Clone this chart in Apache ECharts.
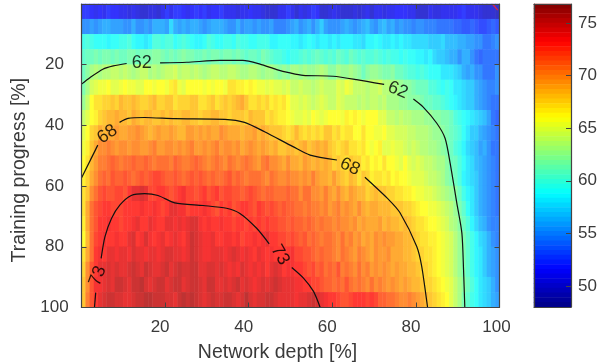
<!DOCTYPE html>
<html><head><meta charset="utf-8">
<style>html,body{margin:0;padding:0;background:#fff}#c{width:598px;height:362px}</style>
<script src="https://cdn.jsdelivr.net/npm/echarts@6/dist/echarts.min.js"></script>
</head><body><div id="c"></div>
<script>
const r0=[52,52,51.5,51,51.5,51,52,51.5,51.5,51,51,50.5,51,50.5,50,50,50.5,50.5,50,51,52,51,52,52,51.5,51,51.5,52,51.5,52,51,51.5,51.5,52,51,51,51,50.5,51,51,51.5,51,51,50.5,50,50,50,51,51,52,
51,50,51,50.5,51,52,51.5,50,50,50.5,51,50.5,50,50,50,50.5,50,50.5,51,50,51,51,50.5,51,51,51.5,51.5,51.5,51,51,50,50,50,51,50.5,50.5,51,51,51,51,51.5,52,51,51,51,50.5,50,50,50,49.5];
const r1=[55,55,55.5,55,55.5,56,56,55.5,55.5,55.5,55,55,56,55,55,55.5,55,56,56,56,55.5,57.5,56,55.5,56,55.5,56,56,55.5,55,55.5,56,56,56,55.5,55,55,56,55,55.5,55.5,55,55.5,55,55,55.5,54.5,54.5,54.5,55,
55.5,56,55,55.5,56,55,56,57,55.5,55,55,55,55.5,56,55.5,55,55.5,56,56.5,55.5,55,56,56.5,55.5,56,55,55.5,55,55,54.5,55,55,54.5,54.5,54.5,54,54,54,54,53.5,53.5,53,53,53.5,53,52.5,52.5,53,53.5,53];
const r2=[59.5,60,59.5,59,59,59,58.5,59,59,59.5,59.5,60,59,58.5,58.5,58,58.5,60,60,59.5,60,60,59,59.5,60,59.5,59,58.5,58.5,59,60,59.5,59,59,59.5,59.5,59,60,59.5,59.5,59,59,59.5,59.5,59.5,58.5,58.5,59,59,59,
58.5,58.5,58,58.5,59,58.5,58,58.5,58.5,58,58.5,58,58.5,58.5,58.5,58,58,57.5,58.5,58.5,59,58.5,58,58,58.5,58,58.5,58,58,57.5,57.5,57.5,57.5,57,57,57,57.5,56.5,56.5,56.5,56,56,55.5,55.5,55,55,54,54,54.5,55];
const r3=[60.5,61,61,61.5,61,61.5,61.5,61,61.5,61,61,61.5,61.5,61,61.5,61.5,61.5,62,62,61.5,61,61.5,61,61.5,62,61.5,61.5,61,61,61.5,61,61.5,61.5,61,61.5,61.5,61,61.5,61,60.5,61,61,60.5,61.5,61,60.5,60,60,59.5,59,
59.5,59.5,60,60.5,60,60.5,61,60.5,60,60.5,60,61,60.5,60,61,60.5,60,60.5,60,60,60.5,60,59.5,60,59.5,59.5,59,59.5,59,59,58.5,58.5,58,58.5,57.5,57,57,56.5,56,56,55,56,56,55,54,53.5,54,54,54,54];
const r4=[61,62,63,63.5,63,63.5,63.5,64,64,63.5,64,63.5,63,63.5,64,64,63,63.5,63,63.5,64,64,64.5,63.5,64,64,63.5,64,63.5,63,63.5,64,64,63.5,63.5,64,64,63.5,63,63,63.5,63.5,63,62.5,63,63,62.5,62,62.5,62,
63,63,62.5,63,62.5,62.5,63,63.5,63,62,62,63,62.5,62.5,63,62.5,62,61,62,62.5,62.5,62,61.5,61.5,62,61,61,60.5,60,60,59.5,60,59.5,59,59,59,58,58,58,57.5,57,56,55.5,56,55,55,54,54,54,55];
const r5=[61.5,63,64.5,65,65.5,65.5,66,65,65,65.5,66,65.5,65.5,65,65,66,66,65.5,66,66,65.5,66.5,67,65.5,65,66,66,66,66,65.5,66,65.5,66,66,65.5,67,67,66.5,66.5,66,66.5,66,65.5,65.5,65,65.5,65,65,64.5,65,
64,64,64.5,64,64,63.5,64,64.5,64,64,64,65,64.5,65.5,65,64,64,64,63.5,64,64,64.5,63.5,63.5,63,63,62.5,62,62,61.5,61,61,61,60,60,59.5,59,59.5,59,58,58,57.5,57,57,56,55.5,55,54.5,54.5,55];
const r6=[62.5,64,66,67,67,67.5,67.5,68,67.5,68.5,68,68,68.5,68,67.5,67.5,68,68.5,67.5,67.5,68,68,67,67.5,67.5,67.5,68,68,67,67,67.5,68,67,67.5,68,67.5,68,68.5,69,68,67,67,67.5,67,67.5,66.5,67,66.5,67,66,
65,65,64.5,65,64.5,64,64.5,65,64.5,64,64,65,64.5,64,64,64,63.5,64,63.5,64,64,63.5,64,63,63,63,62.5,62.5,62,62,62,61.5,61,61,60.5,60.5,60,59.5,59,58.5,58,57.5,57,57,56,55.5,55,54.5,54,54];
const r7=[64,65,66,66.5,67.5,68,68.5,68.5,69,68.5,68.5,68,69,68.5,68,68.5,68.5,68,68,68.5,68,68.5,68,68,68.5,68.5,68,68,67.5,68,68,68.5,68.5,68,68,67.5,68,68,68,67.5,68.5,68,68,68,67,67.5,67,66.5,66.5,66,
65.5,65,65,65.5,65,66,65.5,65,65.5,66,66,66,65.5,66.5,66,66.5,66,65.5,66,66,66,65,65,64,64,63.5,64,63.5,63.5,63,63,63,62.5,62.5,62,62,61.5,61.5,61,60,59.5,59,58.5,58,57.5,57,56.5,55.5,54,53.5];
const r8=[65,66,67.5,68,69,68.5,69,69,69.5,69,69,69.5,69.5,70,69.5,69,68.5,69,69.5,69,69,69.5,69,68.5,68.5,69.5,69.5,69,69.5,69,69.5,69,69,70,69.5,69,69,69,68.5,69,69,69.5,68.5,69,68.5,68,68,68,67.5,67,
67.5,68.5,67.5,67,67.5,67,67.5,67,68,68,67,67.5,66.5,67,67,66,66,67,66,66,65.5,65.5,66,65,65,64.5,64.5,64.5,64,64,63.5,63.5,63.5,63,62.5,62.5,62,61.5,61,60.5,60,59,58,57,57,56,55.5,55,54.5,54];
const r9=[65.5,66.5,68,69,70,70,70.5,70,69.5,70,70,69.5,70,70,69.5,69.5,70,70.5,69.5,69.5,70,70,69.5,70,69.5,70,70.5,69.5,69.5,70,69.5,70,70.5,69.5,70,70,69.5,70,69,69.5,70,69.5,69,69.5,69,68.5,69,68,68,68.5,
68.5,68,68.5,69,68,68.5,69,68.5,69,68,67.5,67,67.5,68,67,67,66.5,67,66,65.5,66,66.5,65,65,65.5,65,65,64.5,64,64.5,64,63.5,63.5,63,63,62.5,62,61.5,61,60,59.5,58.5,57.5,57,56.5,55.5,56,55,54,54];
const r10=[66,67,68.5,69.5,70.5,70.5,71,71.5,71,70.5,71,71,71.5,71,71,71.5,71,70.5,71,71,71,70.5,71.5,71,70.5,70.5,71,71.5,71,70.5,70,70.5,71,70.5,70,71,70.5,70,70.5,71,70.5,70,69.5,70.5,71,70,70,69.5,69,70,
69,69,68.5,69.5,69,68.5,69,68.5,69,68.5,67.5,68,67.5,67,68,67.5,67.5,66.5,67,66,66.5,66,67,66,66,65.5,65,66,65,64.5,65,64.5,64,64,63.5,63,63,62,61,61,60,59,58,57.5,56.5,56,55.5,55,54.5,54];
const r11=[66.5,67.5,69,70,71,71.5,71,72,71.5,71.5,72,71.5,71,71.5,72,71.5,72,72.5,72.5,72,71.5,71.5,72,71.5,71,71.5,72,71.5,72,71.5,71,71.5,71,71,71.5,72,71,71.5,71,70.5,71,71,71,70.5,70,71,70.5,70,70,70.5,
70,70,69.5,70,69.5,70.5,69.5,69,69,68.5,69.5,68.5,68,67.5,68.5,68,67,68,67.5,66.5,67,67,66.5,67,66,66.5,66,66,65.5,65,65,65,64.5,64,64,63.5,63,62,61.5,61,60,58.5,58,57.5,57,56,55.5,55,54.5,54];
const r12=[67,68,70,71,72,72.5,72,72,72.5,72.5,72,73,74,74,74.5,74,72.5,72.5,73,73,72.5,72,72.5,73,73.5,72.5,72.5,72,72.5,73,72,72.5,73,72,72.5,72.5,72,72,71.5,72,72.5,72,71.5,71,71.5,71.5,71,71,71,71.5,
71,71,70,71,71,70,70,69.5,70.5,69.5,69,70,69,68.5,69.5,69,68.5,68.5,67.5,68,68.5,68,68,67.5,67.5,67,67,66.5,66.5,66,65.5,65.5,65,65,64.5,64,63.5,63,62.5,62,61,59.5,58.5,58,57,56,55.5,55,54.5,54];
const r13=[67,69,71,72,72.5,73,73,72.5,72.5,72.5,73,73,73,73,73.5,73,73,73.5,73,72.5,73,74,74,73.5,73.5,72.5,73,73,73,73.5,73,72.5,72,73,72.5,73,72,72.5,73,73,72.5,72,73,72.5,72,72.5,72,71.5,72,71.5,
71.5,71,71,70.5,71,70.5,70.5,70,70.5,69.5,70,70.5,69.5,70,69.5,69,70,69,68.5,69,69,68.5,68.5,68.5,68,68,68,67.5,67.5,67,66.5,66,66,65.5,65.5,65,64.5,64,63.5,62.5,61.5,60.5,59,58,57,56,55.5,55,54.5,54];
const r14=[66.5,69,71,72,73,73,73.5,73,73,72.5,73,73,73.5,74,73,73,74,73.5,73,73,74,74,73.5,74,73.5,74,74.5,74.5,73.5,73,73.5,73,73,73.5,73,73,72.5,73,73,72.5,73,72.5,73,72.5,73,72.5,72.5,72,72,71.5,
72,71.5,71.5,71,71.5,71,70.5,71,70.5,70.5,70,70.5,70,70,69.5,70,69,69.5,69,69,69,69.5,68.5,69,68.5,68.5,68,68.5,68,67.5,67,67,66.5,66,66,65.5,65,64.5,63.5,63,62,61,60,58.5,57.5,56.5,56,55,54.5,54.5];
const r15=[66,68.5,71,72.5,73,73.5,73,73,73.5,73,73,74,74.5,73,73.5,74.5,73.5,73,73.5,74,73,73.5,74,73.5,73,74,75,74.5,74,73.5,73.5,74,73,73,73.5,73.5,73,73.5,72.5,73,73,73.5,73,73.5,74,73,73,72.5,72.5,72,
72.5,72,71.5,72,71,71.5,71,70.5,71,71,70.5,70,71,70,70.5,69.5,70,69,69.5,69,70,69.5,70,69.5,69.5,69,69,68.5,68.5,68,67.5,67,67,66.5,66.5,66,65.5,65,64.5,63.5,62.5,61.5,60.5,59.5,58.5,57.5,57,56,55,54.5];
const r16=[67,69,71,73,73.5,73,74,74,73.5,74,74,73.5,74.5,74,74,73.5,74,74,73.5,74,74.5,74.5,74,74,73.5,74,75,74.5,74,73.5,73.5,74,74,74,73.5,74,74.5,74,73.5,74,73.5,73,74,73.5,73,73.5,73,73,73,73,
73.5,72.5,72.5,72,72,71.5,71,71.5,71,71,70.5,70,71,70.5,70,69.5,70.5,70,69.5,69,70,69.5,69.5,70,69,69,69,68.5,68.5,68,67.5,67.5,67,67,66.5,66,65.5,65,64.5,63.5,62.5,61.5,60.5,59.5,58.5,58,57,56,55.5,55];
const r17=[67.5,70,72,73,74,74,74.5,74,74.5,74,74,74.5,75,74.5,74,75,74.5,74,74,74.5,75,74,74.5,75,74.5,74.5,75,75,74,74,74.5,74.5,74,74.5,74,73.5,74,73.5,74.5,74,73.5,74,73.5,74,73,74,74.5,74,73,73.5,
73.5,73,73,72.5,72,72.5,71.5,72,71,71.5,71,72,70.5,71,70.5,70,71,70,70.5,69.5,70,69.5,70,69.5,69,69.5,69,69,68.5,68.5,68,67.5,67.5,67,66.5,66,65.5,65,64.5,63.5,62.5,61.5,60.5,59.5,58.5,58,57,56,55.5,55];
const r18=[68,70,72,73.5,73.5,74,74.5,74,75,75,74.5,74,75,75,75.5,74.5,74,74.5,75,75,74,74.5,75,75,74,74.5,75,75,74.5,74,75,75,74,74,74.5,74,74.5,75,74,74.5,74,73.5,74,74.5,74,74.5,75,74.5,74,74,
74,73.5,73.5,73,73,72.5,72.5,72,71.5,71.5,71,71.5,71,72,71,70.5,71,70.5,70,71,70,70.5,70,69.5,70,69.5,69,69.5,69,68.5,68.5,68,67.5,67.5,67,66.5,66,65.5,65,64,63,62,61,60,59,58,57.5,57,56,55];
const r19=[68,70.5,72,73,74,74.5,75,75,74.5,74.5,74,74,74.5,75,75,75.5,75.5,75,75,75,74.5,74.5,74,75,75.5,75,75.5,75,74.5,74,74.5,75,74.5,74.5,75,75,74.5,74,74.5,75.5,74.5,74,74.5,74.5,75,75,74.5,74,74,74,
74,73.5,74,74,74.5,75,74.5,74,73.5,73,73,72.5,72,72,72.5,73,73,73,72.5,73,72.5,71.5,71.5,71,71,70.5,70,70,70.5,70,69.5,69,68.5,68,67.5,67,66.5,66,65,64,63,61.5,60.5,59.5,59,58,57.5,57,56,55.5];
const rows=[r0,r1,r2,r3,r4,r5,r6,r7,r8,r9,r10,r11,r12,r13,r14,r15,r16,r17,r18,r19];

const c62a=[[0,26.4],[2,24.3],[5.1,21.5],[7.6,20.4],[10.8,19.6]];
const c62b=[[18.8,19.4],[25.2,19.2],[33.1,18.6],[38.6,18.6],[42.7,19.8],[46.7,21.6],[49.9,22.7],[53,23.5],[60.2,23.8],[65.8,24.9],[72.4,26.5]];
const c62c=[[79.4,31.3],[81.7,33.9],[85,39.3],[87,44.3],[88.2,52.5],[89.8,65.7],[91,75.5],[91.4,87.6],[91.7,100]];
const c68a=[[0,57.3],[3.9,46.5]];
const c68b=[[9.1,39],[11.1,37.7],[15.1,37.4],[22.3,37.8],[34.3,38],[39,39],[43.8,42.1],[50.6,47],[54.7,49.8],[61.1,51.4]];
const c68c=[[67.8,57.1],[73.6,64.6],[76.2,68.8],[80.2,79.9],[81.4,86.5],[82.8,100]];
const c73a=[[3.1,100],[3.4,95.1]];
const c73b=[[4.7,83.8],[5.6,76.7],[7.2,70.6],[9.2,66.2],[11.9,63.1],[15.1,62.5],[18.3,63.1],[22.3,65.5],[29.1,66.4],[34.7,67.3],[37.9,69],[41.9,73.9],[44.9,79]];
const c73c=[[50.3,86.8],[53.1,90.3],[55.5,94.7],[57.1,100]];
const cornerMark=[[98.3,0],[99.6,2]];
const contourPaths=[c62a,c62b,c62c,c68a,c68b,c68c,c73a,c73b,c73c];
const contourLabels=[[14.4,19.4,'62',0],[75.7,28.4,'62',-22],[6.2,42.9,'68',35],[64.2,53.6,'68',-25],[3.9,89.6,'73',70],[47.5,82.7,'73',-60]];

const xTicks=[20,40,60,80,100];
const yTicks=[20,40,60,80,100];
const barTicks=[50,55,60,65,70,75];
const barMin=48, barMax=76.8, barLevels=64;
const xTitle='Network depth [%]', yTitle='Training progress [%]';

const jet=[[0,0,132],[0,0,255],[0,128,255],[0,255,255],[128,255,128],[255,255,0],[255,128,0],[255,0,0],[128,0,0]];
const rgb=c=>'rgb('+c.map(Math.round).join(',')+')';
const jetFull=jet.map(rgb);
const jetFaded=jet.map(c=>rgb(c.map(v=>v*0.8+51)));

const font='"Liberation Sans", Arial, sans-serif', ink='#3a3a3a', axisInk='#444';
const cols=rows[0].map((_,i)=>i), rowIdx=rows.map((_,i)=>i);
const heat=[]; rows.forEach((r,j)=>r.forEach((v,i)=>heat.push([i,j,v])));
const levelIdx=Array.from({length:barLevels},(_,i)=>i);
const barData=levelIdx.map(i=>[0,i,barMax-(i+0.5)*(barMax-barMin)/barLevels]);

const mainGrid={left:81.5,top:4,width:418,height:303.5};
const barGrid={left:534,top:4,width:37,height:303};
const hidden={show:false};
const line={show:true,onZero:false,lineStyle:{color:axisInk,width:1.2}};
const tick={show:true,inside:true,length:5,lineStyle:{color:axisInk,width:1}};

const series=[
 {type:'heatmap',xAxisIndex:0,yAxisIndex:0,data:heat,progressive:0,itemStyle:{borderWidth:0},z:1},
 {type:'heatmap',xAxisIndex:3,yAxisIndex:3,data:barData,progressive:0,z:1}
];
contourPaths.forEach(p=>series.push({type:'line',xAxisIndex:1,yAxisIndex:1,data:p,smooth:0.25,symbol:'none',silent:true,
  lineStyle:{color:'#111',width:1.2},z:5}));
series.push({type:'line',xAxisIndex:1,yAxisIndex:1,data:cornerMark,symbol:'none',lineStyle:{color:'#e8203c',width:1.2},z:5});
series.push({type:'scatter',xAxisIndex:1,yAxisIndex:1,symbolSize:0,z:6,silent:true,
  data:contourLabels.map(l=>({value:[l[0],l[1]],label:{show:true,position:'inside',formatter:l[2],rotate:l[3],fontSize:18,color:'#000',fontFamily:font}}))});

const option={
 animation:false,backgroundColor:'#fff',
 grid:[mainGrid,mainGrid,barGrid,barGrid].map(g=>Object.assign({containLabel:false,outerBoundsMode:'none'},g)),
 visualMap:[
  {show:false,seriesIndex:0,dimension:2,min:barMin,max:barMax,inRange:{color:jetFaded}},
  {show:false,seriesIndex:1,dimension:2,min:barMin,max:barMax,inRange:{color:jetFull}}
 ],
 xAxis:[
  {type:'category',gridIndex:0,data:cols,show:false},
  {type:'value',z:10,gridIndex:1,position:'bottom',min:0,max:100,interval:20,splitLine:hidden,axisLine:line,axisTick:Object.assign({},tick,{customValues:xTicks}),
   axisLabel:{customValues:xTicks,margin:11,fontSize:17,color:ink,fontFamily:font,
     formatter:v=>v===100?'{b|100}':'{a|'+v+'}',rich:{a:{fontSize:17,color:ink,fontFamily:font,padding:[0,10,0,0]},b:{fontSize:17,color:ink,fontFamily:font,padding:[0,6,0,0]}}},
   name:xTitle,nameLocation:'middle',nameGap:35,nameTextStyle:{fontSize:19.5,color:ink,fontFamily:font,padding:[0,26,0,0]}},
  {type:'value',z:10,gridIndex:1,position:'top',min:0,max:100,interval:20,splitLine:hidden,axisLine:line,axisTick:Object.assign({},tick,{customValues:xTicks}),axisLabel:hidden},
  {type:'category',gridIndex:2,data:[0],show:false},
  {type:'value',z:10,gridIndex:3,position:'bottom',min:0,max:1,splitLine:hidden,axisLine:line,axisTick:hidden,axisLabel:hidden},
  {type:'value',z:10,gridIndex:3,position:'top',min:0,max:1,splitLine:hidden,axisLine:line,axisTick:hidden,axisLabel:hidden}
 ],
 yAxis:[
  {type:'category',gridIndex:0,data:rowIdx,inverse:true,show:false},
  {type:'value',z:10,gridIndex:1,position:'left',inverse:true,min:0,max:100,interval:20,splitLine:hidden,axisLine:line,axisTick:Object.assign({},tick,{customValues:yTicks}),
   axisLabel:{customValues:yTicks,align:'center',margin:27,fontSize:17,color:ink,fontFamily:font},
   name:yTitle,nameLocation:'middle',nameGap:45,nameTextStyle:{fontSize:19.5,color:ink,fontFamily:font,padding:[0,29,0,0]}},
  {type:'value',z:10,gridIndex:1,position:'right',inverse:true,min:0,max:100,interval:20,splitLine:hidden,axisLine:line,axisTick:Object.assign({},tick,{customValues:yTicks}),axisLabel:hidden},
  {type:'category',gridIndex:2,data:levelIdx,inverse:true,show:false},
  {type:'value',z:10,gridIndex:3,position:'left',min:barMin,max:barMax,splitLine:hidden,axisLine:line,axisTick:hidden,axisLabel:hidden},
  {type:'value',z:10,gridIndex:3,position:'right',min:barMin,max:barMax,splitLine:hidden,axisLine:line,
   axisTick:Object.assign({},tick,{customValues:barTicks}),
   axisLabel:{customValues:barTicks,margin:7,fontSize:17,color:ink,fontFamily:font,padding:[3,0,0,0]}}
 ],
 series:series
};
echarts.init(document.getElementById('c'),null,{renderer:'canvas'}).setOption(option);
</script></body></html>
